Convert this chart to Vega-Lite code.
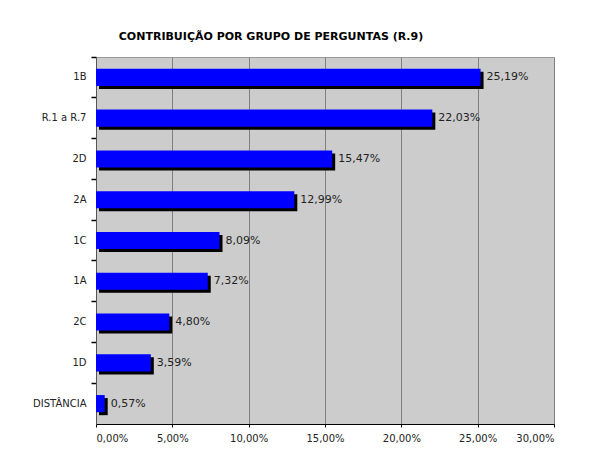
{
  "$schema": "https://vega.github.io/schema/vega-lite/v6.json",
  "width": 458,
  "height": 367,
  "autosize": "none",
  "padding": {"left": 96, "top": 57, "right": 35, "bottom": 35},
  "background": "white",
  "title": {
    "text": "CONTRIBUIÇÃO  POR  GRUPO  DE  PERGUNTAS  (R.9)",
    "font": "DejaVu Sans",
    "fontSize": 11,
    "fontWeight": "bold",
    "color": "#000000",
    "anchor": "middle",
    "dx": -54,
    "offset": 14
  },
  "config": {
    "locale": {
      "number": {"decimal": ",", "thousands": ".", "grouping": [3], "currency": ["", ""]}
    },
    "view": {"fill": "#CCCCCC", "stroke": "#999999", "strokeWidth": 1},
    "axis": {"labelFont": "DejaVu Sans", "labelFontSize": 10, "labelColor": "#222222", "titleFont": "DejaVu Sans"}
  },
  "data": {
    "values": [
      {"grupo": "1B", "valor": 0.2519},
      {"grupo": "R.1 a R.7", "valor": 0.2203},
      {"grupo": "2D", "valor": 0.1547},
      {"grupo": "2A", "valor": 0.1299},
      {"grupo": "1C", "valor": 0.0809},
      {"grupo": "1A", "valor": 0.0732},
      {"grupo": "2C", "valor": 0.048},
      {"grupo": "1D", "valor": 0.0359},
      {"grupo": "DISTÂNCIA", "valor": 0.0057}
    ]
  },
  "encoding": {
    "y": {
      "field": "grupo",
      "type": "nominal",
      "sort": null,
      "title": null,
      "scale": {"paddingInner": 0.58, "paddingOuter": 0.29},
      "axis": {
        "ticks": true,
        "bandPosition": -0.69,
        "domain": true,
        "domainColor": "#555555",
        "tickColor": "#000000",
        "tickWidth": 1.5,
        "tickSize": 5,
        "labelPadding": 5,
        "labelColor": "#222222"
      }
    },
    "x": {
      "field": "valor",
      "type": "quantitative",
      "title": null,
      "scale": {"domain": [0, 0.3], "nice": false},
      "axis": {
        "format": ".2%",
        "values": [0, 0.05, 0.1, 0.15, 0.2, 0.25, 0.3],
        "grid": true,
        "gridColor": "#808080",
        "gridWidth": 1,
        "domainColor": "#000000",
        "tickColor": "#000000",
        "tickSize": 3,
        "labelPadding": 6
      }
    }
  },
  "layer": [
    {
      "mark": {"type": "bar", "color": "#000000", "xOffset": 3, "x2Offset": 3, "yOffset": 3, "y2Offset": 3}
    },
    {
      "mark": {"type": "bar", "color": "#0000FF"}
    },
    {
      "mark": {"type": "text", "align": "left", "baseline": "middle", "dx": 6, "font": "DejaVu Sans", "fontSize": 11, "color": "#222222"},
      "encoding": {
        "text": {"field": "valor", "type": "quantitative", "format": ".2%"}
      }
    }
  ]
}
